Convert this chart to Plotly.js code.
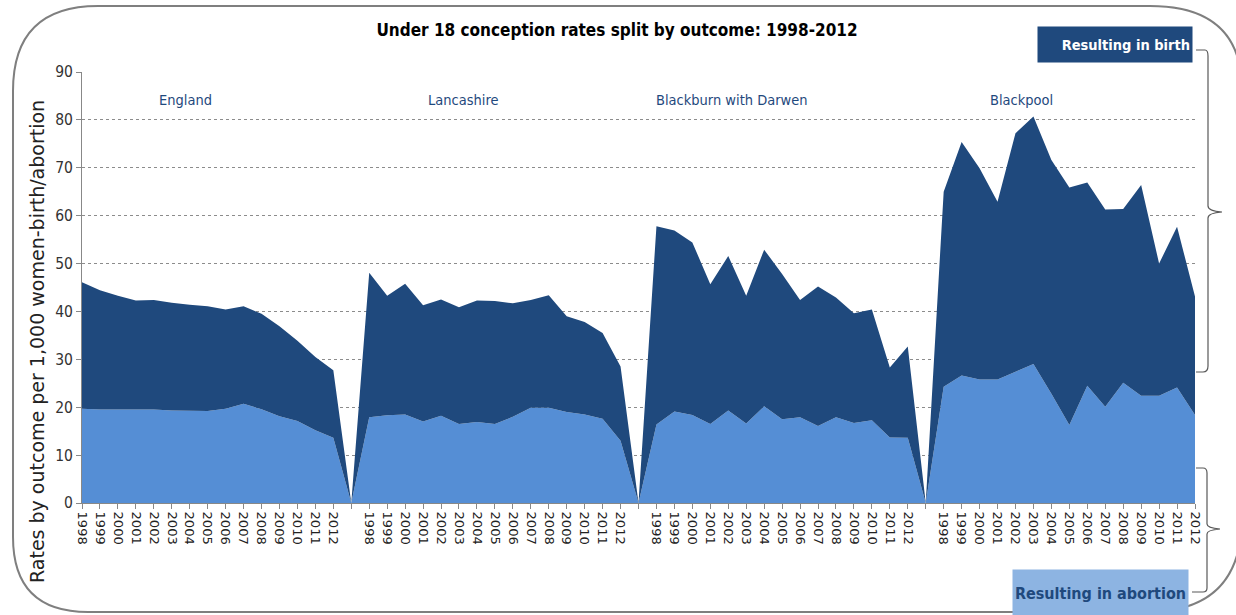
<!DOCTYPE html>
<html>
<head>
<meta charset="utf-8">
<script src="https://cdn.plot.ly/plotly-3.0.1.min.js"></script>
<style>
  html, body { margin: 0; padding: 0; background: #ffffff; }
  #chart { width: 1236px; height: 615px; }
</style>
</head>
<body>
<div id="chart"></div>
<script>
// ---------------- DATA ----------------
const years = ['1998','1999','2000','2001','2002','2003','2004','2005','2006','2007','2008','2009','2010','2011','2012'];
const regions = ['England', 'Lancashire', 'Blackburn with Darwen', 'Blackpool'];

const abortionEngland    = [19.7,19.5,19.5,19.5,19.5,19.3,19.2,19.2,19.7,20.7,19.6,18.1,17.1,15.2,13.6];
const birthEngland       = [26.4,24.9,23.8,22.8,22.9,22.5,22.2,21.9,20.7,20.4,19.9,18.8,16.8,15.3,14.1];

const abortionLancashire = [17.9,18.3,18.5,17.0,18.2,16.5,16.9,16.5,18.0,19.9,19.9,19.0,18.5,17.6,13.0];
const birthLancashire    = [30.2,25.0,27.3,24.3,24.3,24.4,25.4,25.7,23.7,22.5,23.5,20.0,19.3,17.9,15.5];

const abortionBlackburn  = [16.4,19.1,18.4,16.5,19.3,16.6,20.2,17.5,17.9,16.1,17.9,16.7,17.3,13.7,13.6];
const birthBlackburn     = [41.4,37.8,36.0,29.2,32.3,26.7,32.7,30.3,24.5,29.1,25.0,22.9,23.1,14.6,19.1];

const abortionBlackpool  = [24.3,26.6,25.8,25.8,27.4,29.0,22.8,16.3,24.5,20.1,25.1,22.4,22.4,24.1,18.4];
const birthBlackpool     = [40.7,48.8,44.1,37.1,49.8,51.7,48.8,49.6,42.4,41.2,36.3,44.0,27.6,33.6,24.7];

const abortionByRegion = [abortionEngland, abortionLancashire, abortionBlackburn, abortionBlackpool];
const birthByRegion    = [birthEngland, birthLancashire, birthBlackburn, birthBlackpool];

const seriesNames = ['Resulting in abortion', 'Resulting in birth'];
const chartTitle = 'Under 18 conception rates split by outcome: 1998-2012';
const yTitle = 'Rates by outcome per 1,000 women-birth/abortion';

// ------------- build category positions (blank gap category between regions) -------------
const xs = [], abortion = [], birth = [], tickvals = [], ticktext = [];
let pos = 0;
regions.forEach((r, ri) => {
  years.forEach((y, yi) => {
    xs.push(pos); abortion.push(abortionByRegion[ri][yi]); birth.push(birthByRegion[ri][yi]);
    tickvals.push(pos); ticktext.push(y);
    pos++;
  });
  if (ri < regions.length - 1) {
    xs.push(pos); abortion.push(0); birth.push(0);
    tickvals.push(pos); ticktext.push('');
    pos++;
  }
});
const lastX = pos - 1;

// ------------- styling -------------
const DARK = '#1F497D';
const LIGHT = '#558ED5';
const NARROW = '"DejaVu Sans Condensed", "Liberation Sans Narrow", Roboto, sans-serif';

const traces = [
  { x: xs, y: abortion, name: seriesNames[0], type: 'scatter', mode: 'lines',
    stackgroup: 'one', line: { width: 0, color: LIGHT }, fillcolor: LIGHT, hoverinfo: 'x+y' },
  { x: xs, y: birth, name: seriesNames[1], type: 'scatter', mode: 'lines',
    stackgroup: 'one', line: { width: 0, color: DARK }, fillcolor: DARK, hoverinfo: 'x+y' }
];

// plot area in page pixels
const L = 82, R = 1195, T = 72, B = 503;
const PW = R - L, PH = B - T;
const px = (x) => ((x - L) / PW).toFixed(5);
const py = (y) => ((B - y) / PH).toFixed(5);
const P = (x, y) => px(x) + ',' + py(y);

const regionLabelPx = [186, 463, 732, 1021];
const regionAnn = regions.map((r, i) => ({
  text: r, xref: 'paper', yref: 'paper', x: +px(regionLabelPx[i]), y: +py(100),
  xanchor: 'center', yanchor: 'middle', showarrow: false,
  font: { family: NARROW, size: 14.5, color: DARK }
}));

const border = 'M' + P(98,6) + ' L' + P(1150,6) + ' Q' + P(1242,6) + ' ' + P(1242,90) +
  ' L' + P(1242,517) + ' Q' + P(1242,612) + ' ' + P(1147,612) +
  ' L' + P(88,612) + ' Q' + P(13,612) + ' ' + P(13,537) +
  ' L' + P(13,91) + ' Q' + P(13,6) + ' ' + P(98,6) + ' Z';

const brace1 = 'M' + P(1196,50) + ' L' + P(1205,50) + ' Q' + P(1208,50) + ' ' + P(1208,56) +
  ' L' + P(1208,206) + ' Q' + P(1208,211) + ' ' + P(1222,212) +
  ' Q' + P(1208,213) + ' ' + P(1208,218) +
  ' L' + P(1208,366) + ' Q' + P(1208,372) + ' ' + P(1203,372) + ' L' + P(1196,372);

const brace2 = 'M' + P(1196,468) + ' L' + P(1203,468) + ' Q' + P(1207,468) + ' ' + P(1207,473) +
  ' L' + P(1207,524) + ' Q' + P(1207,528) + ' ' + P(1220,529) +
  ' Q' + P(1207,530) + ' ' + P(1207,534) +
  ' L' + P(1207,588) + ' Q' + P(1207,592) + ' ' + P(1203,592) + ' L' + P(1192,592);

const layout = {
  width: 1236, height: 615,
  margin: { l: L, r: 1236 - R, t: T, b: 615 - B, pad: 0 },
  paper_bgcolor: '#ffffff', plot_bgcolor: '#ffffff',
  showlegend: false,
  title: { text: chartTitle, x: 617 / 1236, xref: 'container', xanchor: 'center',
           y: 1 - 30 / 615, yref: 'container', yanchor: 'middle',
           font: { family: NARROW, size: 17, color: '#000000', weight: 'bold' } },
  xaxis: {
    range: [0, lastX], tickmode: 'array', tickvals: tickvals, ticktext: ticktext,
    tickangle: 90, ticks: 'outside', ticklen: 5, tickcolor: '#888888',
    showline: true, linecolor: '#888888', linewidth: 1, showgrid: false, zeroline: false,
    tickfont: { family: '"DejaVu Sans", Verdana, sans-serif', size: 13, color: '#222222' },
    fixedrange: true
  },
  yaxis: {
    range: [0, 90], tickmode: 'linear', tick0: 0, dtick: 10,
    ticks: 'outside', ticklen: 5, tickcolor: '#888888',
    showline: true, linecolor: '#888888', linewidth: 1,
    showgrid: true, gridcolor: '#8c8c8c', gridwidth: 1, griddash: 'dot', zeroline: false,
    tickfont: { family: NARROW, size: 15.5, color: '#333333' },
    fixedrange: true
  },
  shapes: [
    { type: 'path', xref: 'paper', yref: 'paper', path: border, layer: 'below',
      line: { color: '#7f7f7f', width: 2 }, fillcolor: 'rgba(0,0,0,0)' },
    { type: 'path', xref: 'paper', yref: 'paper', path: brace1, layer: 'above',
      line: { color: '#595959', width: 1.2 }, fillcolor: 'rgba(0,0,0,0)' },
    { type: 'path', xref: 'paper', yref: 'paper', path: brace2, layer: 'above',
      line: { color: '#595959', width: 1.2 }, fillcolor: 'rgba(0,0,0,0)' }
  ],
  annotations: regionAnn.concat([
    { text: yTitle, xref: 'paper', yref: 'paper', x: +px(37), y: +py(342),
      xanchor: 'center', yanchor: 'middle', textangle: -90, showarrow: false,
      font: { family: '"DejaVu Sans", Verdana, sans-serif', size: 19, color: '#222222' } },
    { text: seriesNames[1], xref: 'paper', yref: 'paper', x: +px(1115), y: +py(44.5),
      xanchor: 'center', yanchor: 'middle', showarrow: false, bgcolor: DARK,
      width: 150, height: 31, borderpad: 2, align: 'right',
      font: { family: NARROW, size: 14.5, color: '#ffffff', weight: 'bold' } },
    { text: seriesNames[0], xref: 'paper', yref: 'paper', x: +px(1101), y: +py(593),
      xanchor: 'center', yanchor: 'middle', showarrow: false, bgcolor: '#8DB4E2',
      width: 173, height: 44, align: 'center',
      font: { family: NARROW, size: 16, color: DARK, weight: 'bold' } }
  ])
};

Plotly.newPlot('chart', traces, layout, { displayModeBar: false, staticPlot: true });
</script>
</body>
</html>
